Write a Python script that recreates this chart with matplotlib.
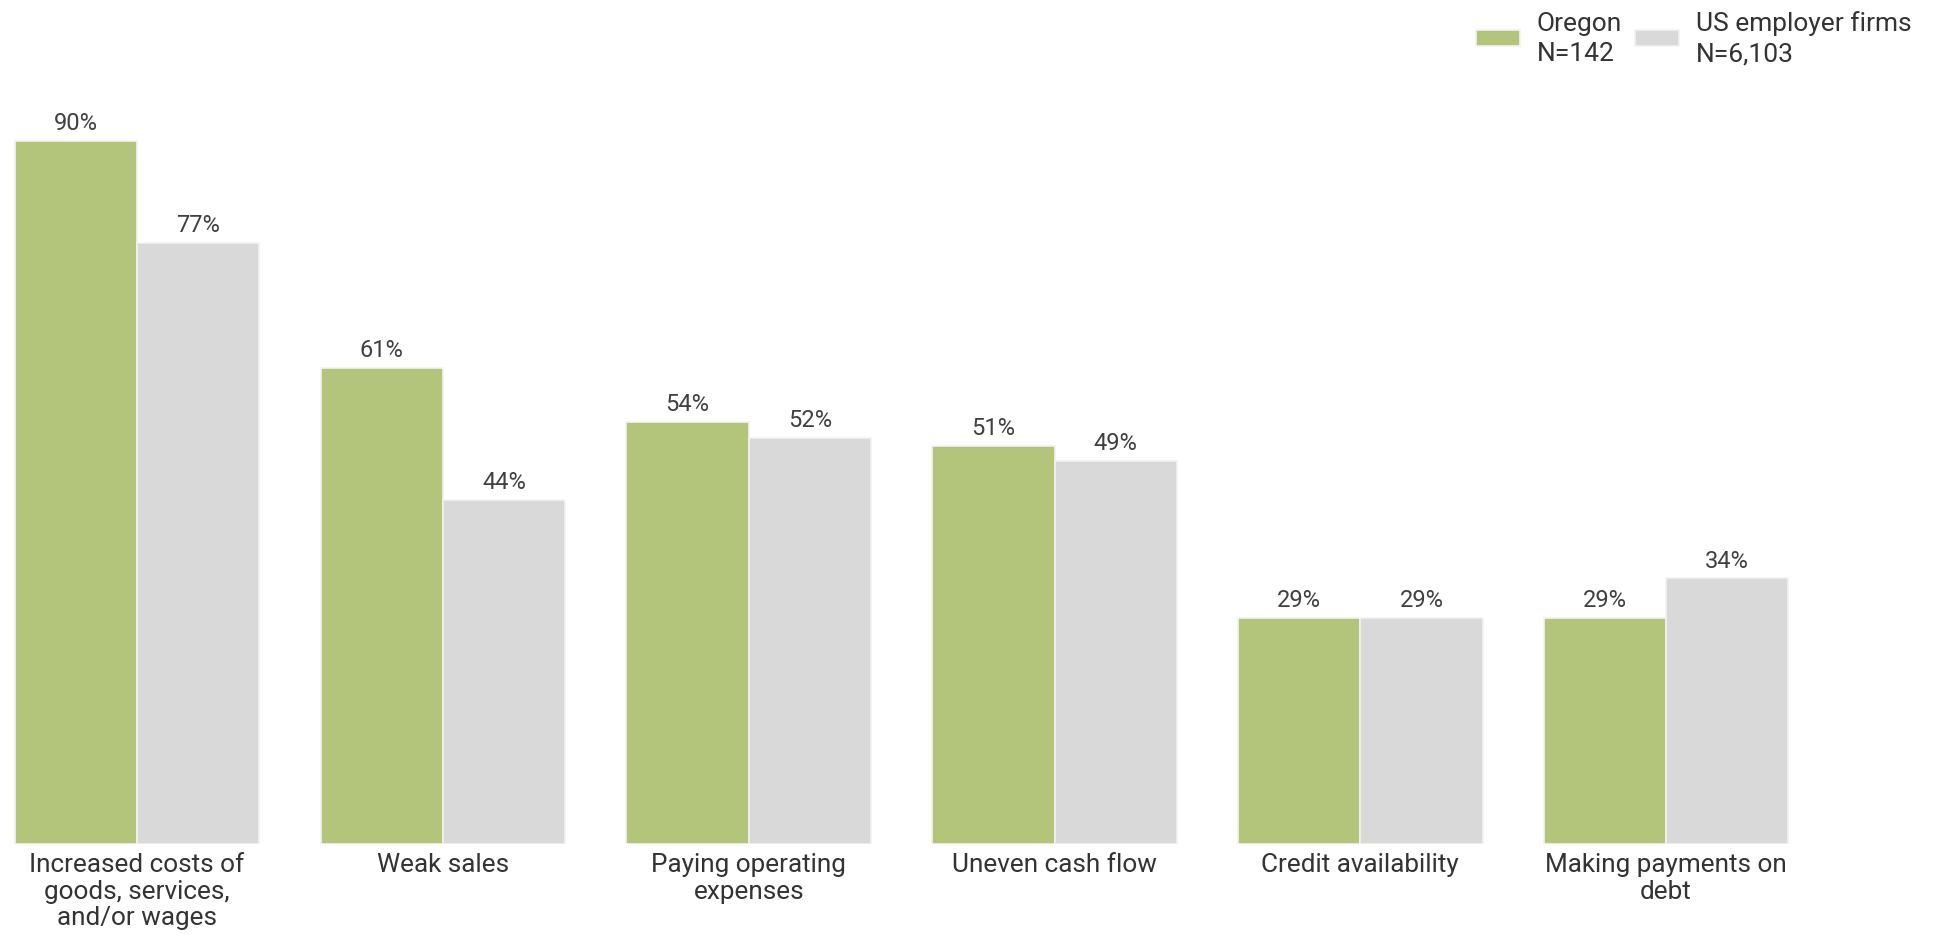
import matplotlib
matplotlib.use("Agg")
import matplotlib.pyplot as plt
import numpy as np

categories = ["Increased costs of\ngoods, services,\nand/or wages", "Weak sales",
              "Paying operating\nexpenses", "Uneven cash flow", "Credit availability",
              "Making payments on\ndebt"]
oregon = [90, 61, 54, 51, 29, 29]
us = [77, 44, 52, 49, 29, 34]
series_labels = ["Oregon\nN=142", "US employer firms\nN=6,103"]
colors = ["#b3c57a", "#d9d9d9"]

plt.rcParams['font.family'] = ['Roboto', 'DejaVu Sans']

W, H = 1936, 937
fig = plt.figure(figsize=(W / 100, H / 100), dpi=100)
ax_left_px, ax_right_px = 10, 1800
ax_bottom_px, ax_top_px = 845, 65
ax = fig.add_axes([ax_left_px / W, (H - ax_bottom_px) / H,
                   (ax_right_px - ax_left_px) / W, (ax_bottom_px - ax_top_px) / H])

x = np.arange(len(categories))
bw = 0.4
spacing_px = 305.8
xmin = -0.4 - (14.8 - ax_left_px) / spacing_px
xmax = xmin + (ax_right_px - ax_left_px) / spacing_px
ax.set_xlim(xmin, xmax)
ax.set_ylim(0, (ax_bottom_px - ax_top_px) / 7.81)

b1 = ax.bar(x - bw / 2, oregon, bw, color=colors[0], edgecolor="#f2f2f2", linewidth=1.2,
            label=series_labels[0])
b2 = ax.bar(x + bw / 2, us, bw, color=colors[1], edgecolor="#f2f2f2", linewidth=1.2,
            label=series_labels[1])

for bars, vals in ((b1, oregon), (b2, us)):
    for r, v in zip(bars, vals):
        ax.annotate(f"{v}%", (r.get_x() + r.get_width() / 2, v), xytext=(0, 5),
                    textcoords="offset points", ha="center", va="bottom",
                    fontsize=17, color="#404040")

ax.set_xticks(x)
ax.set_xticklabels(categories, fontsize=18.8, color="#333333", linespacing=1.12, va="top")
ax.tick_params(axis="x", length=0, pad=6)
ax.set_yticks([])
for s in ax.spines.values():
    s.set_visible(False)

leg = fig.legend(loc="upper right", bbox_to_anchor=(1930 / W, 1 + 7 / H), ncol=2,
                 frameon=False, fontsize=19, handlelength=1.67, handleheight=0.53,
                 handletextpad=0.64, columnspacing=0.5, labelcolor="#333333",
                 borderpad=0.2)
for t in leg.get_texts():
    t.set_linespacing(1.3)

fig.savefig("out.png", dpi=100, facecolor="white")
